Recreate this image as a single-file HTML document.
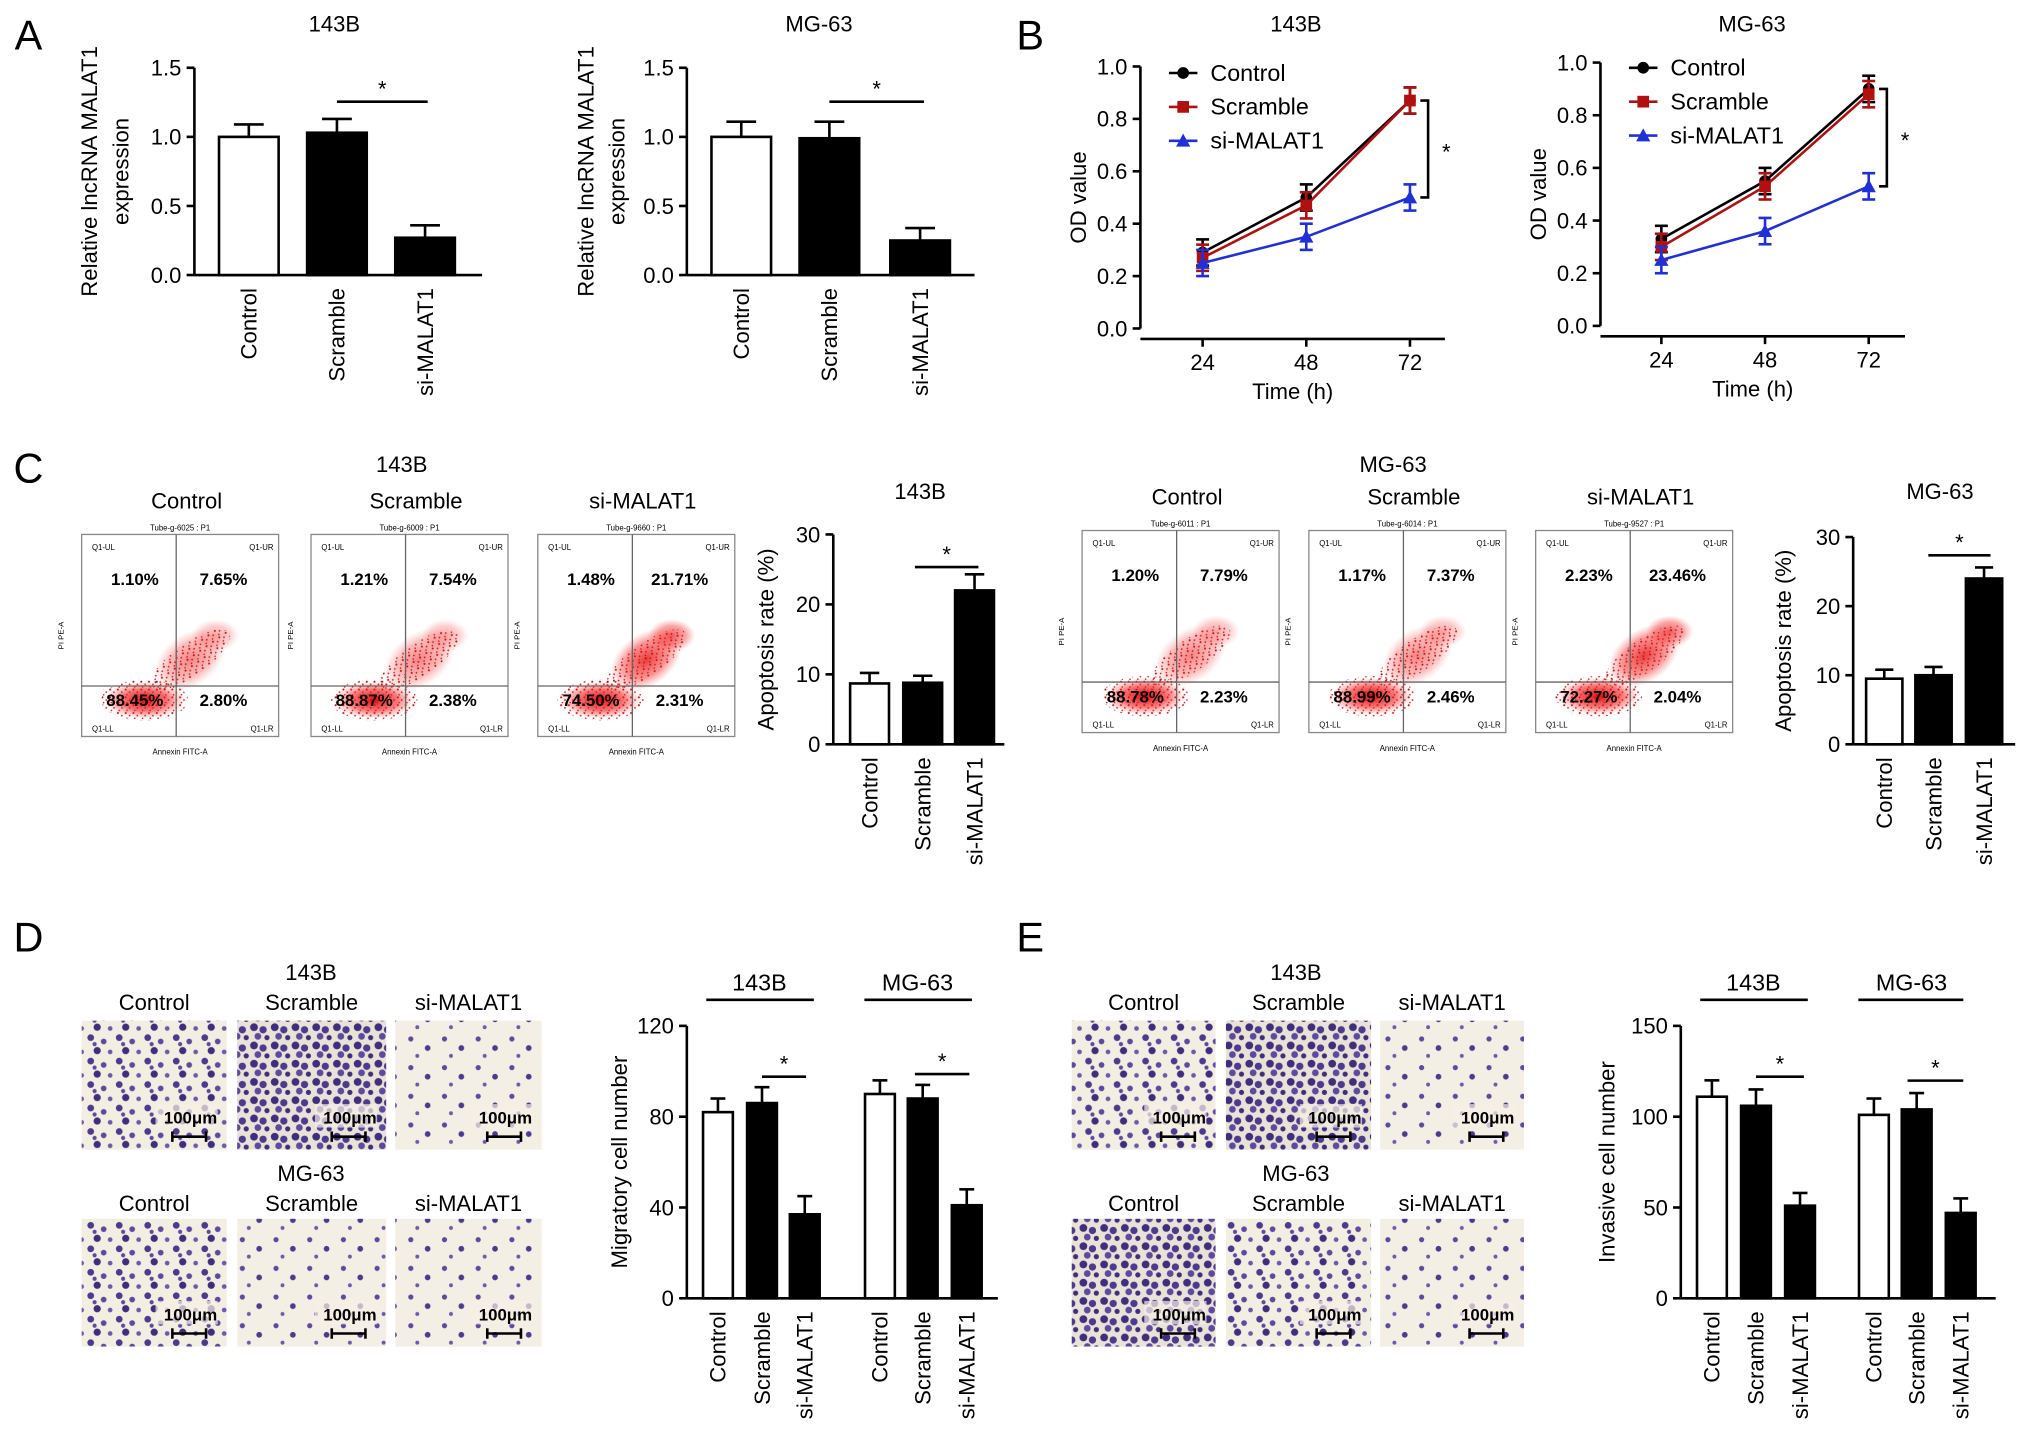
<!DOCTYPE html>
<html><head><meta charset="utf-8"><style>
html,body{margin:0;padding:0;background:#fff}
svg{display:block;font-family:"Liberation Sans",Arial,sans-serif}
</style></head><body>
<svg id="fig" xmlns="http://www.w3.org/2000/svg" width="2032" height="1443" viewBox="0 0 1568 1107" preserveAspectRatio="none">
<defs>
<pattern id="cells1" width="22" height="18" patternUnits="userSpaceOnUse">
<rect width="22" height="18" fill="#f3eee2"/>
<circle cx="4" cy="4" r="2.6" fill="#4b3a8e"/><circle cx="14" cy="7" r="2.2" fill="#5b4aa0"/>
<circle cx="9" cy="14" r="2.8" fill="#3e2f7e"/><circle cx="19" cy="15" r="1.8" fill="#6a5aac"/>
<circle cx="7" cy="9" r="1.6" fill="#5a4a9c"/>
</pattern>
<pattern id="cells2" width="26" height="22" patternUnits="userSpaceOnUse">
<rect width="26" height="22" fill="#f4efe4"/>
<circle cx="5" cy="5" r="2" fill="#5a4aa0"/><circle cx="18" cy="12" r="2.2" fill="#4b3a8e"/>
<circle cx="10" cy="18" r="1.5" fill="#6a5aac"/>
</pattern>
<pattern id="cells3" width="16" height="14" patternUnits="userSpaceOnUse">
<rect width="16" height="14" fill="#e9e2d6"/>
<circle cx="4" cy="4" r="3" fill="#3e2f7e"/><circle cx="11" cy="6" r="2.8" fill="#4b3a8e"/>
<circle cx="7" cy="11" r="2.6" fill="#5b4aa0"/><circle cx="14" cy="12" r="2" fill="#3e2f7e"/>
</pattern>
<pattern id="speck" width="6" height="6" patternUnits="userSpaceOnUse">
<circle cx="1" cy="1" r="0.8" fill="#e00000"/><circle cx="4" cy="3" r="0.7" fill="#f01010"/><circle cx="2" cy="5" r="0.6" fill="#e00000"/>
</pattern>
<radialGradient id="blob"><stop offset="0" stop-color="#e00000" stop-opacity="0.95"/><stop offset="0.6" stop-color="#ee2020" stop-opacity="0.6"/><stop offset="1" stop-color="#ff4040" stop-opacity="0"/></radialGradient>
</defs>
<g id="root"></g>
</svg>
<script>
// ---------- data ----------
const cats3=['Control','Scramble','si-MALAT1'];
const aTicks=[0,0.5,1.0,1.5];
const a143Vals=[1.0,1.03,0.27];
const a143Err=[0.09,0.1,0.09];
const aMGVals=[1.0,0.99,0.25];
const aMGErr=[0.11,0.12,0.09];
const bTimes=[24,48,72];
const bTicks=[0,0.2,0.4,0.6,0.8,1.0];
const b143Control=[0.29,0.50,0.87];
const b143Scramble=[0.27,0.47,0.87];
const b143Si=[0.25,0.35,0.50];
const b143Err=[0.05,0.05,0.05];
const bMGControl=[0.33,0.55,0.90];
const bMGScramble=[0.30,0.53,0.88];
const bMGSi=[0.25,0.36,0.53];
const bMGErr=[0.05,0.05,0.05];
const cTicks=[0,10,20,30];
const c143Vals=[8.7,8.8,22.0];
const c143Err=[1.5,1.0,2.3];
const cMGVals=[9.5,10.0,24.0];
const cMGErr=[1.3,1.2,1.6];
const flowLabels143=[['1.10%','7.65%','88.45%','2.80%'],['1.21%','7.54%','88.87%','2.38%'],['1.48%','21.71%','74.50%','2.31%']];
const flowLabelsMG=[['1.20%','7.79%','88.78%','2.23%'],['1.17%','7.37%','88.99%','2.46%'],['2.23%','23.46%','72.27%','2.04%']];
const flowTubes143=['Tube-g-6025 : P1','Tube-g-6009 : P1','Tube-g-9660 : P1'];
const flowTubesMG=['Tube-g-6011 : P1','Tube-g-6014 : P1','Tube-g-9527 : P1'];
const dTicks=[0,40,80,120];
const d143Vals=[82,86,37];
const d143Err=[6,7,8];
const dMGVals=[90,88,41];
const dMGErr=[6,6,7];
const eTicks=[0,50,100,150];
const e143Vals=[111,106,51];
const e143Err=[9,9,7];
const eMGVals=[101,104,47];
const eMGErr=[9,9,8];

// ---------- helpers ----------
const NS='http://www.w3.org/2000/svg';
const root=document.getElementById('root');
function mk(p,tag,at,txt){const e=document.createElementNS(NS,tag);for(const k in at)e.setAttribute(k,at[k]);if(txt!==undefined)e.textContent=txt;p.appendChild(e);return e;}
function grp(name){const g=mk(root,'g',{});


return g;}
function txt(p,x,y,s,size,name,anchor,rot,weight){const at={x:x,y:y,'font-size':size,'text-anchor':anchor||'middle',fill:'#000'};if(weight)at['font-weight']=weight;if(rot)at.transform='rotate('+rot+' '+x+' '+y+')';const t=mk(p,'text',at,s);


return t;}

function barChart(name,o,vals,errs,ticks,fmt){
  const g=grp(name);
  const sy=v=>o.base-(v-ticks[0])/(ticks[ticks.length-1]-ticks[0])*(o.base-o.top);
  const ax=mk(g,'line',{x1:o.x0,y1:sy(ticks[ticks.length-1]),x2:o.x0,y2:o.base,stroke:'#000','stroke-width':2});
  
  
  const xa=mk(g,'line',{x1:o.x0,y1:o.base,x2:o.x1,y2:o.base,stroke:'#000','stroke-width':2});
  
  
  ticks.forEach(t=>{const y=sy(t);mk(g,'line',{x1:o.x0-6,y1:y,x2:o.x0,y2:y,stroke:'#000','stroke-width':2});
    txt(g,o.x0-10,y+6,fmt(t),17,'y-tick-label','end');});
  vals.forEach((v,i)=>{
    const c=o.centers[i],w=o.w;
    const b=mk(g,'rect',{x:c-w/2,y:sy(v),width:w,height:o.base-sy(v),fill:o.fills[i],stroke:'#000','stroke-width':2});
    
    
    const ye=sy(v+errs[i]);
    mk(g,'line',{x1:c,y1:sy(v),x2:c,y2:ye,stroke:'#000','stroke-width':2});
    mk(g,'line',{x1:c-w/4,y1:ye,x2:c+w/4,y2:ye,stroke:'#000','stroke-width':2});
    txt(g,c+6,o.base+10,(o.names?o.names[i]:cats3[i%3]),17,'x-category-label','end',-90);
  });
  if(o.ytitle){o.ytitle.forEach((s,k)=>txt(g,o.tx+k*24,(o.base+o.top)/2,s,17,'y-axis-title','middle',-90));}
  (o.sig||[]).forEach(s=>{mk(g,'line',{x1:s[0],y1:s[2],x2:s[1],y2:s[2],stroke:'#000','stroke-width':2});txt(g,(s[0]+s[1])/2,s[2]-4,'*',17,'significance-star');});
  if(o.title)txt(g,o.title[0],o.title[1],o.title[2],17,'chart-title');
  return g;
}

function lineChart(name,o,series,errs){
  const g=grp(name);
  const sy=v=>o.base-v/1.0*(o.base-o.top);
  const sx=t=>o.xs[0]+(t-bTimes[0])/(bTimes[2]-bTimes[0])*(o.xs[1]-o.xs[0]);
  mk(g,'line',{x1:o.x0,y1:o.top,x2:o.x0,y2:o.base,stroke:'#000','stroke-width':2});
  mk(g,'line',{x1:o.x0,y1:o.xaxY,x2:o.x1,y2:o.xaxY,stroke:'#000','stroke-width':2});
  bTicks.forEach(t=>{const y=sy(t);mk(g,'line',{x1:o.x0-6,y1:y,x2:o.x0,y2:y,stroke:'#000','stroke-width':2});txt(g,o.x0-10,y+6,t.toFixed(1),17,'y-tick-label','end');});
  bTimes.forEach(t=>{const x=sx(t);mk(g,'line',{x1:x,y1:o.xaxY,x2:x,y2:o.xaxY+6,stroke:'#000','stroke-width':2});txt(g,x,o.xaxY+24,String(t),17,'x-tick-label');});
  txt(g,(o.x0+o.x1)/2,o.xaxY+46,'Time (h)',17,'x-axis-title');
  txt(g,o.x0-42,(o.top+o.base)/2,'OD value',17,'y-axis-title','middle',-90);
  txt(g,o.title[0],o.title[1],o.title[2],17,'chart-title');
  series.forEach((s,si)=>{
    const sg=mk(g,'g',{});
    
    
    const pts=s.vals.map((v,i)=>sx(bTimes[i])+','+sy(v)).join(' ');
    mk(sg,'polyline',{points:pts,fill:'none',stroke:s.color,'stroke-width':2});
    s.vals.forEach((v,i)=>{const x=sx(bTimes[i]);const e=errs[i];
      mk(sg,'line',{x1:x,y1:sy(v-e),x2:x,y2:sy(v+e),stroke:s.color,'stroke-width':2});
      mk(sg,'line',{x1:x-5,y1:sy(v-e),x2:x+5,y2:sy(v-e),stroke:s.color,'stroke-width':2});
      mk(sg,'line',{x1:x-5,y1:sy(v+e),x2:x+5,y2:sy(v+e),stroke:s.color,'stroke-width':2});
      marker(sg,s.shape,x,sy(v),s.color);});
    const ly=o.leg[1]+si*26;
    const le=mk(g,'g',{});
    
    
    mk(le,'line',{x1:o.leg[0],y1:ly,x2:o.leg[0]+22,y2:ly,stroke:s.color,'stroke-width':2});
    marker(le,s.shape,o.leg[0]+11,ly,s.color);
    txt(le,o.leg[0]+32,ly+6,s.name,18,'legend-label','start');
  });
  const last=series[0].vals[2],low=series[2].vals[2];
  const bx=o.xs[1]+14;
  mk(g,'polyline',{points:(bx-6)+','+sy(last)+' '+bx+','+sy(last)+' '+bx+','+sy(low)+' '+(bx-6)+','+sy(low),fill:'none',stroke:'#000','stroke-width':2});
  txt(g,bx+14,(sy(last)+sy(low))/2+8,'*',17,'significance-star');
}
function marker(p,shape,x,y,c){
  if(shape==='c')mk(p,'circle',{cx:x,cy:y,r:4.5,fill:c});
  else if(shape==='s')mk(p,'rect',{x:x-4.5,y:y-4.5,width:9,height:9,fill:c});
  else mk(p,'polygon',{points:(x)+','+(y-5.5)+' '+(x+5.5)+','+(y+4.5)+' '+(x-5.5)+','+(y+4.5),fill:c});
}

function flowPlot(name,x,y,w,h,labels,tube,title,shift){
  const g=grp(name);
  txt(g,x+w/2+5,y-20,title,17,'flow-title');
  txt(g,x+w/2,y-3,tube,6,'flow-tube-label');
  const fr=mk(g,'rect',{x:x,y:y,width:w,height:h,fill:'#fff',stroke:'#888','stroke-width':1});
  
  
  const qx=x+w*0.48,qy=y+h*0.75;
  mk(g,'ellipse',{cx:x+w*0.55,cy:y+h*0.62,rx:w*0.24,ry:h*0.08,fill:'url(#speck)',transform:'rotate(-35 '+(x+w*0.55)+' '+(y+h*0.62)+')'});
  mk(g,'ellipse',{cx:x+w*0.32,cy:y+h*0.82,rx:w*0.22,ry:h*0.1,fill:'url(#speck)'});
  mk(g,'ellipse',{cx:x+w*0.32,cy:y+h*0.82,rx:w*0.2,ry:h*0.09,fill:'url(#blob)'});
  mk(g,'ellipse',{cx:x+w*0.55,cy:y+h*0.62,rx:w*0.2,ry:h*0.13,fill:'url(#blob)',transform:'rotate(-35 '+(x+w*0.55)+' '+(y+h*0.62)+')',opacity:0.5+shift});
  mk(g,'ellipse',{cx:x+w*0.68,cy:y+h*0.5,rx:w*0.12,ry:h*0.08,fill:'url(#blob)',opacity:0.35+shift});
  mk(g,'line',{x1:qx,y1:y,x2:qx,y2:y+h,stroke:'#666','stroke-width':1});
  mk(g,'line',{x1:x,y1:qy,x2:x+w,y2:qy,stroke:'#666','stroke-width':1});
  txt(g,x+w*0.27,y+h*0.25,labels[0],13,'quadrant-ul','middle',0,'bold');
  txt(g,x+w*0.72,y+h*0.25,labels[1],13,'quadrant-ur','middle',0,'bold');
  txt(g,x+w*0.27,y+h*0.85,labels[2],13,'quadrant-ll','middle',0,'bold');
  txt(g,x+w*0.72,y+h*0.85,labels[3],13,'quadrant-lr','middle',0,'bold');
  txt(g,x+8,y+12,'Q1-UL',6,'q-label','start');txt(g,x+w-4,y+12,'Q1-UR',6,'q-label','end');
  txt(g,x+8,y+h-4,'Q1-LL',6,'q-label','start');txt(g,x+w-4,y+h-4,'Q1-LR',6,'q-label','end');
  txt(g,x+w/2,y+h+14,'Annexin FITC-A',6,'x-axis-title');
  txt(g,x-14,y+h/2,'PI PE-A',6,'y-axis-title','middle',-90);
}

function micro(name,x,y,w,h,pat){
  const g=grp(name);
  const r=mk(g,'rect',{x:x,y:y,width:w,height:h,fill:'url(#'+pat+')'});
  
  
  mk(g,'rect',{x:x+w-55,y:y+h-35,width:48,height:18,fill:'#f5f0e6',opacity:0.7});
  txt(g,x+w-28,y+h-20,'100μm',13,'scale-label','middle',0,'bold');
  mk(g,'line',{x1:x+w-42,y1:y+h-10,x2:x+w-16,y2:y+h-10,stroke:'#000','stroke-width':2});
  mk(g,'line',{x1:x+w-42,y1:y+h-14,x2:x+w-42,y2:y+h-6,stroke:'#000','stroke-width':2});
  mk(g,'line',{x1:x+w-16,y1:y+h-14,x2:x+w-16,y2:y+h-6,stroke:'#000','stroke-width':2});
}

[['A',22,38],['B',795,38],['C',22,370],['D',22,730],['E',795,730]].forEach(p=>txt(root,p[1],p[2],p[0],32,'panel-label-'+p[0].toLowerCase()));

const one=v=>v.toFixed(1);
barChart('panel-a-143b-chart',{x0:150,x1:372,base:211,top:52,centers:[192,260,328],w:46,fills:['#fff','#000','#000'],ytitle:['Relative lncRNA MALAT1','expression'],tx:75,sig:[[260,330,78]],title:[258,24,'143B']},a143Vals,a143Err,aTicks,one);
barChart('panel-a-mg63-chart',{x0:530,x1:752,base:211,top:52,centers:[572,640,710],w:46,fills:['#fff','#000','#000'],ytitle:['Relative lncRNA MALAT1','expression'],tx:458,sig:[[640,713,78]],title:[632,24,'MG-63']},aMGVals,aMGErr,aTicks,one);

lineChart('panel-b-143b-chart',{x0:880,x1:1115,top:51,base:252,xaxY:260,xs:[928,1088],title:[1000,24,'143B'],leg:[902,56]},
 [{name:'Control',vals:b143Control,color:'#000',shape:'c'},{name:'Scramble',vals:b143Scramble,color:'#b01010',shape:'s'},{name:'si-MALAT1',vals:b143Si,color:'#2030d8',shape:'t'}],b143Err);
lineChart('panel-b-mg63-chart',{x0:1235,x1:1470,top:48,base:250,xaxY:258,xs:[1282,1442],title:[1352,24,'MG-63'],leg:[1257,52]},
 [{name:'Control',vals:bMGControl,color:'#000',shape:'c'},{name:'Scramble',vals:bMGScramble,color:'#b01010',shape:'s'},{name:'si-MALAT1',vals:bMGSi,color:'#2030d8',shape:'t'}],bMGErr);

txt(root,310,362,'143B',17,'panel-c-143b-title');
txt(root,1075,362,'MG-63',17,'panel-c-mg63-title');
[63,240,415].forEach((x,i)=>flowPlot('flow-143b-'+cats3[i].toLowerCase(),x,410,152,155,flowLabels143[i],flowTubes143[i],cats3[i],i===2?0.3:0));
[835,1010,1185].forEach((x,i)=>flowPlot('flow-mg63-'+cats3[i].toLowerCase(),x,407,152,155,flowLabelsMG[i],flowTubesMG[i],cats3[i],i===2?0.3:0));
const intf=v=>String(v);
barChart('panel-c-143b-chart',{x0:643,x1:775,base:571,top:410,centers:[671,712,752],w:30,fills:['#fff','#000','#000'],ytitle:['Apoptosis rate (%)'],tx:597,sig:[[706,755,435]],title:[710,383,'143B']},c143Vals,c143Err,cTicks,intf);
barChart('panel-c-mg63-chart',{x0:1430,x1:1555,base:571,top:412,centers:[1454,1492,1531],w:28,fills:['#fff','#000','#000'],ytitle:['Apoptosis rate (%)'],tx:1382,sig:[[1488,1536,426]],title:[1497,383,'MG-63']},cMGVals,cMGErr,cTicks,intf);

txt(root,240,752,'143B',17,'d-143b-label');txt(root,240,906,'MG-63',17,'d-mg63-label');
[[63,175],[183,298],[305,418]].forEach((p,i)=>{txt(root,(p[0]+p[1])/2,775,cats3[i],17,'micro-title');txt(root,(p[0]+p[1])/2,929,cats3[i],17,'micro-title');
 micro('d-143b-'+cats3[i].toLowerCase(),p[0],783,p[1]-p[0],99,['cells1','cells3','cells2'][i]);
 micro('d-mg63-'+cats3[i].toLowerCase(),p[0],935,p[1]-p[0],98,['cells1','cells2','cells2'][i]);});
barChart('panel-d-chart',{x0:530,x1:770,base:996,top:787,centers:[554,588,621,679,712,746],w:23,fills:['#fff','#000','#000','#fff','#000','#000'],names:cats3.concat(cats3),ytitle:['Migratory cell number'],tx:484,sig:[[588,622,826],[706,748,824]]},d143Vals.concat(dMGVals),d143Err.concat(dMGErr),dTicks,intf);
{const g=grp('panel-d-group-labels');mk(g,'line',{x1:545,y1:767,x2:628,y2:767,stroke:'#000','stroke-width':2});mk(g,'line',{x1:667,y1:767,x2:750,y2:767,stroke:'#000','stroke-width':2});txt(g,586,760,'143B',18,'group-label');txt(g,708,760,'MG-63',18,'group-label');}

txt(root,1000,752,'143B',17,'e-143b-label');txt(root,1000,906,'MG-63',17,'e-mg63-label');
[[827,938],[946,1058],[1065,1176]].forEach((p,i)=>{txt(root,(p[0]+p[1])/2,775,cats3[i],17,'micro-title');txt(root,(p[0]+p[1])/2,929,cats3[i],17,'micro-title');
 micro('e-143b-'+cats3[i].toLowerCase(),p[0],783,p[1]-p[0],99,['cells1','cells3','cells2'][i]);
 micro('e-mg63-'+cats3[i].toLowerCase(),p[0],935,p[1]-p[0],98,['cells3','cells1','cells2'][i]);});
barChart('panel-e-chart',{x0:1297,x1:1540,base:996,top:787,centers:[1321,1355,1389,1446,1479,1513],w:23,fills:['#fff','#000','#000','#fff','#000','#000'],names:cats3.concat(cats3),ytitle:['Invasive cell number'],tx:1246,sig:[[1355,1392,826],[1472,1515,829]]},e143Vals.concat(eMGVals),e143Err.concat(eMGErr),eTicks,intf);
{const g=grp('panel-e-group-labels');mk(g,'line',{x1:1312,y1:767,x2:1395,y2:767,stroke:'#000','stroke-width':2});mk(g,'line',{x1:1434,y1:767,x2:1515,y2:767,stroke:'#000','stroke-width':2});txt(g,1353,760,'143B',18,'group-label');txt(g,1475,760,'MG-63',18,'group-label');}
</script>
</body></html>
